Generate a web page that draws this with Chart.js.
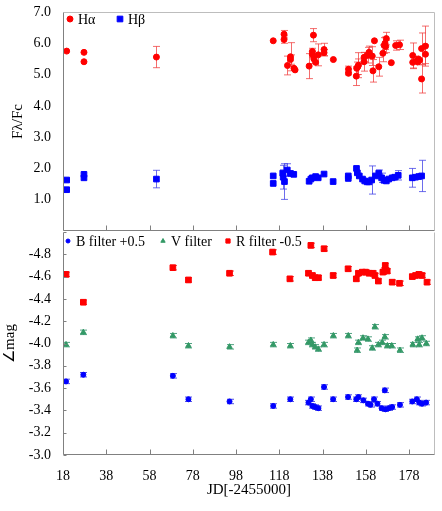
<!DOCTYPE html>
<html>
<head>
<meta charset="utf-8">
<script src="https://cdn.jsdelivr.net/npm/chart.js@4"></script>
<style>
  body { margin: 0; background: #fff; }
  #wrap { position: relative; width: 442px; height: 511px; }
  canvas { position: absolute; left: 0; }
</style>
</head>
<body>
<div id="wrap">
  <canvas id="chartLines" width="442" height="232" style="top:0"></canvas>
  <canvas id="chartMag" width="442" height="271" style="top:232px"></canvas>
</div>
<script>
// eje X comun
const xTicks = [18, 38, 58, 78, 98, 118, 138, 158, 178];
const topTicks = [0, 1, 2, 3, 4, 5, 6, 7];
const magTicks = [-5.0, -4.8, -4.6, -4.4, -4.2, -4.0, -3.8, -3.6, -3.4, -3.2, -3.0];

// H alfa
const haJD  = [19.7, 27.7, 27.7, 61.2, 115.2, 120.2, 120.2, 121.8, 123.2, 123.2, 124.8, 125.3, 131.8, 133.3, 133.3, 133.8, 134.0, 134.8, 136.0, 138.7, 138.7, 143.0, 150.0, 150.0, 153.8, 154.3, 153.6, 154.6, 157.2, 157.2, 158.8, 159.5, 161.0, 161.3, 162.0, 164.0, 165.9, 166.5, 166.9, 167.2, 167.5, 169.8, 171.8, 173.6, 179.7, 179.7, 181.6, 182.3, 182.9, 182.0, 183.8, 183.8, 185.6, 185.6];
const haVal = [5.75, 5.71, 5.41, 5.56, 6.08, 6.29, 6.12, 5.29, 5.57, 5.48, 5.20, 5.15, 5.27, 5.74, 5.64, 6.26, 5.50, 5.39, 5.63, 5.80, 5.70, 5.48, 5.17, 5.04, 5.20, 5.25, 4.95, 5.30, 5.41, 5.55, 5.62, 5.71, 5.59, 5.12, 6.08, 5.25, 5.68, 5.93, 6.00, 5.90, 6.15, 5.38, 5.93, 5.95, 5.61, 5.39, 5.44, 5.50, 5.46, 5.40, 5.83, 4.86, 5.91, 5.65];
const haErr = [0, 0, 0, 0.34, 0, 0.12, 0.12, 0.3, 0.45, 0.15, 0, 0, 0.4, 0.1, 0.1, 0.21, 0.15, 0, 0.35, 0.2, 0.1, 0, 0.1, 0.05, 0.2, 0.25, 0.3, 0.4, 0.3, 0.15, 0.25, 0.2, 0.3, 0.36, 0, 0.3, 0.27, 0.25, 0.2, 0.2, 0.2, 0, 0.15, 0.15, 0.4, 0.2, 0, 0, 0, 0, 0.5, 0.45, 0.64, 0.3];

// H beta
const hbJD  = [19.7, 19.7, 27.7, 27.7, 61.2, 115.2, 115.2, 119.6, 119.8, 120.4, 121.7, 123.2, 124.7, 131.8, 132.6, 133.3, 134.8, 136.0, 138.7, 142.9, 149.9, 149.9, 153.7, 154.1, 155.0, 156.5, 157.5, 158.6, 159.5, 160.7, 162.5, 164.0, 165.3, 166.4, 167.5, 168.6, 170.2, 171.4, 173.0, 179.5, 181.0, 182.5, 183.8];
const hbVal = [1.63, 1.32, 1.81, 1.70, 1.66, 1.76, 1.52, 1.85, 1.72, 1.58, 1.95, 1.84, 1.81, 1.59, 1.66, 1.70, 1.74, 1.70, 1.82, 1.58, 1.76, 1.68, 2.00, 1.86, 1.76, 1.66, 1.60, 1.57, 1.57, 1.63, 1.76, 1.85, 1.70, 1.62, 1.60, 1.66, 1.70, 1.72, 1.78, 1.70, 1.72, 1.74, 1.76];
const hbErr = [0, 0, 0, 0, 0.28, 0, 0, 0.1, 0.38, 0.57, 0.2, 0, 0, 0, 0, 0, 0, 0, 0, 0, 0, 0, 0, 0, 0, 0, 0, 0, 0, 0.45, 0, 0.1, 0.15, 0, 0, 0, 0, 0, 0.15, 0.3, 0, 0, 0.5];

// fotometria
const bJD  = [19.4, 27.4, 68.8, 76.0, 95.0, 115.2, 123.1, 131.5, 132.6, 133.3, 134.6, 136.1, 138.7, 142.9, 149.8, 153.6, 154.6, 156.9, 159.0, 160.2, 161.8, 163.4, 165.3, 166.8, 167.1, 168.7, 170.2, 173.8, 179.5, 181.6, 182.7, 184.0, 185.9];
const bVal = [-3.66, -3.72, -3.71, -3.50, -3.48, -3.44, -3.50, -3.47, -3.50, -3.44, -3.43, -3.42, -3.61, -3.50, -3.52, -3.50, -3.52, -3.49, -3.46, -3.45, -3.50, -3.46, -3.42, -3.58, -3.41, -3.42, -3.43, -3.45, -3.48, -3.50, -3.47, -3.46, -3.47];
const vJD  = [19.4, 27.4, 68.8, 76.0, 95.0, 115.2, 123.1, 131.5, 132.6, 133.3, 134.6, 136.1, 138.7, 143.0, 149.9, 154.0, 154.6, 156.7, 159.0, 161.0, 162.2, 163.8, 165.6, 166.8, 168.0, 170.0, 173.8, 179.7, 182.0, 182.7, 184.0, 186.0];
const vVal = [-3.99, -4.10, -4.07, -3.98, -3.97, -3.99, -3.98, -4.01, -4.03, -3.99, -3.97, -3.95, -3.99, -4.07, -4.07, -3.94, -4.01, -4.05, -4.04, -3.96, -4.15, -3.99, -4.01, -4.06, -3.98, -3.98, -3.94, -3.99, -4.04, -3.99, -4.05, -4.00];
const rJD  = [19.4, 27.4, 68.8, 76.0, 95.0, 114.9, 122.9, 131.5, 132.6, 133.3, 134.6, 136.1, 138.7, 142.9, 149.8, 153.6, 154.6, 156.4, 157.9, 159.5, 161.3, 162.2, 163.8, 165.9, 166.8, 167.0, 167.9, 170.2, 173.6, 179.5, 181.0, 182.5, 184.0, 186.3];
const rVal = [-4.62, -4.37, -4.68, -4.57, -4.63, -4.82, -4.58, -4.63, -4.88, -4.61, -4.59, -4.59, -4.85, -4.61, -4.67, -4.58, -4.63, -4.64, -4.64, -4.63, -4.63, -4.61, -4.56, -4.64, -4.66, -4.70, -4.65, -4.55, -4.54, -4.60, -4.61, -4.62, -4.61, -4.55];
const magErr = 0.02;

const FONT = 'Liberation Serif, Times New Roman, serif';

function pts(xs, ys) {
    return xs.map((x, i) => ({ x: x, y: ys[i] }));
}

// barras de error
const errorBars = {
    id: 'errorBars',
    beforeDatasetsDraw(chart) {
        const ctx = chart.ctx;
        const xs = chart.scales.x, ys = chart.scales.y;
        chart.data.datasets.forEach(ds => {
            if (!ds.err) return;
            ctx.save();
            ctx.strokeStyle = ds.errColor;
            ctx.lineWidth = 1;
            ds.data.forEach((p, i) => {
                const e = Array.isArray(ds.err) ? ds.err[i] : ds.err;
                if (!e) return;
                const px = Math.round(xs.getPixelForValue(p.x)) + 0.5;
                const y1 = ys.getPixelForValue(p.y + e);
                const y2 = ys.getPixelForValue(p.y - e);
                ctx.beginPath();
                ctx.moveTo(px, y1); ctx.lineTo(px, y2);
                ctx.moveTo(px - 3.5, y1); ctx.lineTo(px + 3.5, y1);
                ctx.moveTo(px - 3.5, y2); ctx.lineTo(px + 3.5, y2);
                ctx.stroke();
            });
            ctx.restore();
        });
    }
};

// marco y marcas hacia dentro
const frame = {
    id: 'frame',
    afterDraw(chart, args, opts) {
        const ctx = chart.ctx, a = chart.chartArea;
        const xs = chart.scales.x, ys = chart.scales.y;
        const L = Math.round(a.left) + 0.5, R = Math.round(a.right) - 0.5;
        const T = Math.round(a.top) + 0.5, B = Math.round(a.bottom) - 0.5;
        ctx.save();
        ctx.lineWidth = 1;
        ctx.strokeStyle = '#bdbdbd';
        ctx.beginPath();
        if (opts.top) { ctx.moveTo(L, T); ctx.lineTo(R, T); }
        ctx.moveTo(R, T); ctx.lineTo(R, B);
        ctx.stroke();
        ctx.strokeStyle = '#808080';
        ctx.beginPath();
        ctx.moveTo(L, T); ctx.lineTo(L, B);
        ctx.moveTo(L, B); ctx.lineTo(R, B);
        xTicks.forEach(v => {
            const px = Math.round(xs.getPixelForValue(v)) + 0.5;
            ctx.moveTo(px, B); ctx.lineTo(px, B - 5);
        });
        if (opts.yTicks) {
            ys.ticks.forEach(t => {
                const py = Math.round(ys.getPixelForValue(t.value)) + 0.5;
                ctx.moveTo(L, py); ctx.lineTo(L + 3, py);
            });
        }
        ctx.stroke();
        ctx.restore();
    }
};

// leyenda dentro del area
const innerLegend = {
    id: 'innerLegend',
    afterDraw(chart, args, opts) {
        const ctx = chart.ctx, a = chart.chartArea;
        ctx.save();
        ctx.font = '14px ' + FONT;
        ctx.textBaseline = 'middle';
        const y = a.top + opts.dy;
        chart.data.datasets.forEach((ds, i) => {
            const x = a.left + opts.xs[i];
            ctx.fillStyle = ds.backgroundColor;
            ctx.strokeStyle = ds.borderColor;
            ctx.lineWidth = 1;
            Chart.helpers.drawPoint(ctx, { pointStyle: ds.pointStyle, radius: ds.legendRadius, borderWidth: 1, rotation: 0 }, x, y);
            ctx.fillStyle = '#000';
            ctx.fillText(ds.label, x + 8, y + 1);
        });
        ctx.restore();
    }
};

function yAxis(ticks, title, hidden, titlePad, extra) {
    return Object.assign({
        type: 'linear',
        min: ticks[0], max: ticks[ticks.length - 1],
        afterBuildTicks: s => { s.ticks = ticks.map(v => ({ value: v })); },
        afterFit: s => { s.width = 63; s.paddingTop = 0; s.paddingBottom = 0; },
        grid: { display: false, drawTicks: false },
        border: { display: false },
        ticks: {
            font: { family: FONT, size: 14 },
            color: c => (c.tick && c.tick.value === hidden) ? 'rgba(0,0,0,0)' : '#000',
            padding: 12,
            callback: v => v.toFixed(1)
        },
        title: { display: true, text: title, font: { family: FONT, size: 15 }, color: '#000', padding: { top: titlePad, bottom: 0 } }
    }, extra || {});
}

// panel de flujo
new Chart(document.getElementById('chartLines').getContext('2d'), {
    type: 'scatter',
    data: {
        datasets: [{
            label: 'H\u03b1',
            data: pts(haJD, haVal),
            err: haErr,
            errColor: 'rgba(240,60,60,0.75)',
            pointStyle: 'circle',
            pointRadius: 3,
            legendRadius: 3,
            backgroundColor: '#ff0000',
            borderColor: '#ff0000'
        }, {
            label: 'H\u03b2',
            data: pts(hbJD, hbVal),
            err: hbErr,
            errColor: 'rgba(60,60,230,0.75)',
            pointStyle: 'rect',
            pointRadius: 4,
            legendRadius: 4,
            backgroundColor: '#0000ff',
            borderColor: '#0000ff'
        }]
    },
    options: {
        responsive: false,
        animation: false,
        layout: { padding: { top: 12, right: 7, bottom: 1, left: 0 }, autoPadding: false },
        plugins: {
            legend: { display: false },
            tooltip: { enabled: false },
            frame: { top: true, yTicks: false },
            innerLegend: { dy: 7, xs: [7, 57] }
        },
        scales: {
            x: { type: 'linear', min: 18, max: 190, display: false },
            y: yAxis(topTicks, 'F\u03bb/Fc', 0, 9)
        }
    },
    plugins: [errorBars, frame, innerLegend]
});

// panel de magnitudes
new Chart(document.getElementById('chartMag').getContext('2d'), {
    type: 'scatter',
    data: {
        datasets: [{
            label: 'B filter +0.5',
            data: pts(bJD, bVal),
            err: magErr,
            errColor: 'rgba(40,40,220,0.8)',
            pointStyle: 'circle',
            pointRadius: 2.5,
            legendRadius: 2,
            backgroundColor: '#0000ff',
            borderColor: '#0000ff'
        }, {
            label: 'V filter',
            data: pts(vJD, vVal),
            err: magErr,
            errColor: 'rgba(40,140,100,0.8)',
            pointStyle: 'triangle',
            pointRadius: 3.2,
            legendRadius: 2.5,
            backgroundColor: '#339966',
            borderColor: '#339966'
        }, {
            label: 'R filter -0.5',
            data: pts(rJD, rVal),
            err: magErr,
            errColor: 'rgba(230,40,40,0.8)',
            pointStyle: 'rect',
            pointRadius: 4,
            legendRadius: 3,
            backgroundColor: '#ff0000',
            borderColor: '#ff0000'
        }]
    },
    options: {
        responsive: false,
        animation: false,
        layout: { padding: { top: 0, right: 7, bottom: 0, left: 0 }, autoPadding: false },
        plugins: {
            legend: { display: false },
            tooltip: { enabled: false },
            frame: { top: false, yTicks: true },
            innerLegend: { dy: 9, xs: [5, 100, 165] }
        },
        scales: {
            x: {
                type: 'linear', min: 18, max: 190,
                afterBuildTicks: s => { s.ticks = xTicks.map(v => ({ value: v })); },
                afterFit: s => { s.height = 48; s.paddingLeft = 0; s.paddingRight = 0; },
                grid: { display: false, drawTicks: false },
                border: { display: false },
                ticks: { font: { family: FONT, size: 14 }, color: '#000', padding: 13, maxRotation: 0 },
                title: { display: true, text: 'JD[-2455000]', font: { family: FONT, size: 15 }, color: '#000', padding: { top: 0 } }
            },
            y: yAxis(magTicks, '\u2220mag', -5, 1, { reverse: true })
        }
    },
    plugins: [errorBars, frame, innerLegend]
});
</script>
</body>
</html>
